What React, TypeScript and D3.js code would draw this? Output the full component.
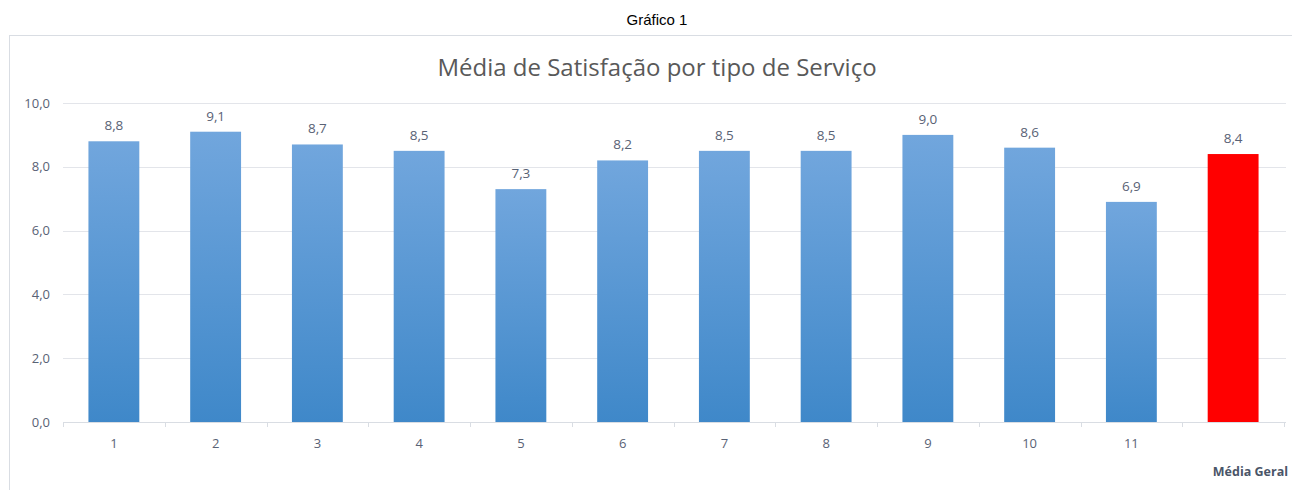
import React, { useEffect } from 'react';
import { scaleBand, scaleLinear, range } from 'd3';

const categories = ['1', '2', '3', '4', '5', '6', '7', '8', '9', '10', '11', ''];
const values = [8.8, 9.1, 8.7, 8.5, 7.3, 8.2, 8.5, 8.5, 9.0, 8.6, 6.9, 8.4];
const yTicks = [0, 2, 4, 6, 8, 10];

const W = 1292;
const H = 490;
const fmt = (v: number) => v.toFixed(1).replace('.', ',');

export default function App() {
  useEffect(() => {
    document.body.style.margin = '0';
  }, []);

  const x = scaleBand().domain(range(categories.length).map(String)).range([63, 1284]).paddingInner(0.5).paddingOuter(0.25);
  const y = scaleLinear().domain([0, 10]).range([422, 103]);
  const step = x.step();
  const band0 = 63;
  const font = "'Segoe UI', 'Open Sans', 'DejaVu Sans', sans-serif";
  const labelColor = '#596275';

  return (
    <svg width={W} height={H} style={{ display: 'block' }} fontFamily={font}>
      <defs>
        <linearGradient id="barGrad" x1="0" y1="0" x2="0" y2="1">
          <stop offset="0%" stopColor="#71a6dd" />
          <stop offset="100%" stopColor="#3f88c9" />
        </linearGradient>
      </defs>
      <rect width={W} height={H} fill="#fff" />
      <text x={657} y={25} textAnchor="middle" fontSize={15} fontWeight="normal" fill="#000" fontFamily="'Liberation Sans', Arial, sans-serif">Gráfico 1</text>
      <rect x={9.5} y={35.5} width={1300} height={500} fill="#fff" stroke="#d9dde3" />
      <text x={657} y={76} textAnchor="middle" fontSize={24} fill="#595959">Média de Satisfação por tipo de Serviço</text>

      {yTicks.map(t => (
        <g key={t}>
          {t > 0 && <line x1={63} x2={1286} y1={Math.round(y(t)) + 0.5} y2={Math.round(y(t)) + 0.5} stroke="#e3e5ea" />}
          <text x={50} y={y(t) + 4.5} textAnchor="end" fontSize={13} fill={labelColor}>{fmt(t)}</text>
        </g>
      ))}

      {values.map((v, i) => {
        const xi = x(String(i)) as number;
        const last = i === values.length - 1;
        return (
          <g key={i}>
            <rect x={xi} y={y(v)} width={x.bandwidth()} height={y(0) - y(v)} fill={last ? '#ff0000' : 'url(#barGrad)'} />
            <text x={xi + x.bandwidth() / 2} y={y(v) - 11} textAnchor="middle" fontSize={13.5} fill={labelColor}>{fmt(v)}</text>
            <text x={xi + x.bandwidth() / 2} y={448} textAnchor="middle" fontSize={13} fill={labelColor}>{categories[i]}</text>
          </g>
        );
      })}

      <line x1={63} x2={1286} y1={422.5} y2={422.5} stroke="#d9dde3" />
      {range(categories.length + 1).map(i => (
        <line key={i} x1={Math.round(band0 + i * step) + 0.5} x2={Math.round(band0 + i * step) + 0.5} y1={422} y2={427} stroke="#d9dde3" />
      ))}

      <text x={1288} y={476} textAnchor="end" fontSize={12.5} fontWeight="bold" fill="#4a5568">Média Geral</text>
    </svg>
  );
}
